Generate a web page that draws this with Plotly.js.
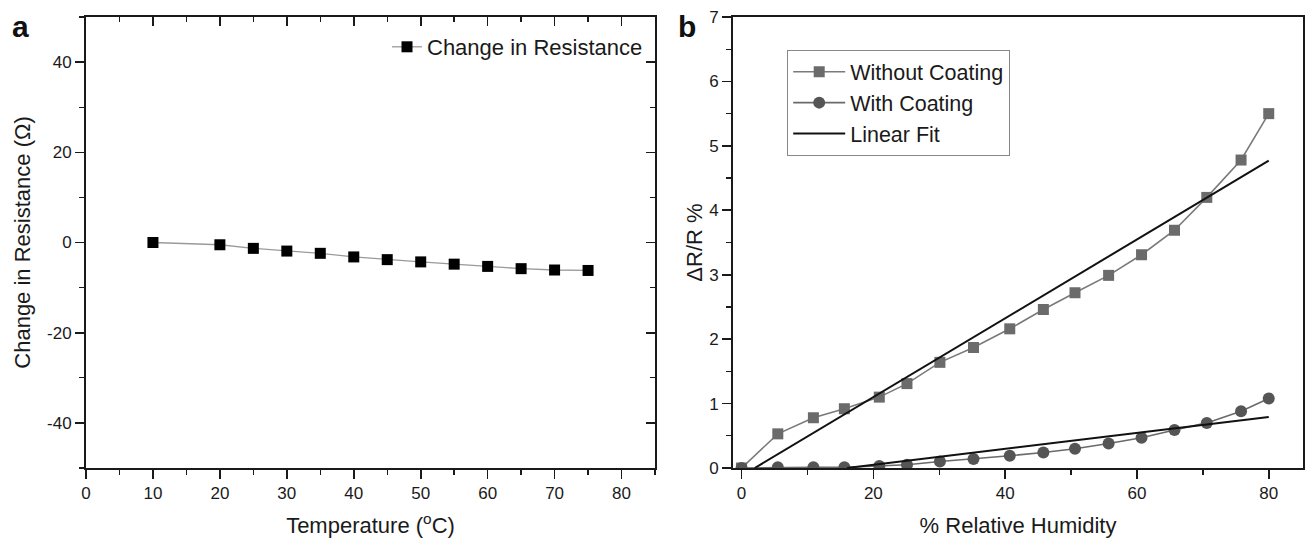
<!DOCTYPE html>
<html>
<head>
<meta charset="utf-8">
<script src="https://cdn.plot.ly/plotly-3.0.1.min.js"></script>
<style>html,body{margin:0;padding:0;background:#fff;}#chart{width:1305px;height:543px;}</style>
</head>
<body>
<div id="chart"></div>
<script>
// Panel a data
const tempC = [10, 20, 25, 30, 35, 40, 45, 50, 55, 60, 65, 70, 75];
const resistanceChange = [0, -0.5, -1.3, -1.9, -2.4, -3.2, -3.8, -4.3, -4.8, -5.3, -5.8, -6.1, -6.2];
const aYTickVals = [-40, -20, 0, 20, 40];
const aYTickText = ['-40', '-20', '0', '20', '40'];

// Panel b data
const humidity = [0, 5.5, 10.9, 15.6, 20.9, 25.1, 30.1, 35.2, 40.7, 45.8, 50.6, 55.7, 60.7, 65.7, 70.6, 75.8, 80];
const withoutCoating = [0, 0.53, 0.78, 0.92, 1.10, 1.31, 1.64, 1.87, 2.16, 2.46, 2.72, 2.99, 3.31, 3.69, 4.20, 4.78, 5.50];
const withCoating = [0, 0.01, 0.01, 0.01, 0.03, 0.05, 0.10, 0.14, 0.19, 0.24, 0.30, 0.38, 0.47, 0.59, 0.70, 0.88, 1.08];
const fitWithoutX = [2, 80];
const fitWithoutY = [0, 4.77];
const fitWithX = [16, 80];
const fitWithY = [0, 0.79];

const font = 'Liberation Sans, Arial, sans-serif';

const traces = [
  {x: tempC, y: resistanceChange, xaxis: 'x', yaxis: 'y', mode: 'lines+markers', name: 'Change in Resistance',
   line: {color: '#9a9a9a', width: 1.3}, marker: {symbol: 'square', size: 11, color: '#000'}, legend: 'legend'},
  // invisible helpers so the mirrored (inside-tick) frame axes of panel a are drawn
  {x: tempC, y: resistanceChange, xaxis: 'x3', yaxis: 'y', mode: 'markers', marker: {opacity: 0}, showlegend: false, hoverinfo: 'skip'},
  {x: tempC, y: resistanceChange, xaxis: 'x', yaxis: 'y3', mode: 'markers', marker: {opacity: 0}, showlegend: false, hoverinfo: 'skip'},
  {x: humidity, y: withoutCoating, xaxis: 'x2', yaxis: 'y2', mode: 'lines+markers', name: 'Without Coating',
   line: {color: '#7a7a7a', width: 1.6}, marker: {symbol: 'square', size: 11, color: '#6b6b6b'}, legend: 'legend2'},
  {x: humidity, y: withCoating, xaxis: 'x2', yaxis: 'y2', mode: 'lines+markers', name: 'With Coating',
   line: {color: '#6a6a6a', width: 1.6}, marker: {symbol: 'circle', size: 12, color: '#555'}, legend: 'legend2'},
  {x: fitWithoutX, y: fitWithoutY, xaxis: 'x2', yaxis: 'y2', mode: 'lines', name: 'Linear Fit',
   line: {color: '#111', width: 2}, legend: 'legend2'},
  {x: fitWithX, y: fitWithY, xaxis: 'x2', yaxis: 'y2', mode: 'lines', name: 'Linear Fit',
   line: {color: '#111', width: 2}, showlegend: false, legend: 'legend2'}
];

const tickFont = {family: font, size: 17, color: '#1a1a1a'};
const titleFont = {family: font, size: 22, color: '#1a1a1a'};
const dA = [86/1305, 655/1305];
const dB = [733/1305, 1303/1305];
const yd = [1 - 468/543, 1 - 17/543];
const lineC = '#1a1a1a';

const layout = {
  width: 1305, height: 543,
  margin: {l: 0, r: 0, t: 0, b: 0},
  paper_bgcolor: '#fff', plot_bgcolor: '#fff',
  font: {family: font, color: '#1a1a1a'},
  xaxis: {domain: dA, anchor: 'y', range: [0, 85], dtick: 10, tick0: 0, ticks: 'outside', ticklen: 9, tickwidth: 1.6,
          showline: true, linewidth: 2, linecolor: lineC, tickcolor: lineC, showgrid: false, zeroline: false, tickfont: tickFont,
          minor: {dtick: 5, tick0: 0, ticks: 'outside', ticklen: 5, tickwidth: 1.4, tickcolor: lineC}, automargin: false,
          title: {text: 'Temperature (<sup>o</sup>C)', font: titleFont, standoff: 15}},
  yaxis: {domain: yd, anchor: 'x', range: [-50, 50], tickmode: 'array', tickvals: aYTickVals, ticktext: aYTickText,
          ticks: 'outside', ticklen: 9, tickwidth: 1.6,
          showline: true, linewidth: 2, linecolor: lineC, tickcolor: lineC, showgrid: false, zeroline: false, tickfont: tickFont,
          minor: {tickmode: 'linear', dtick: 10, tick0: 0, ticks: 'outside', ticklen: 5, tickwidth: 1.4, tickcolor: lineC}, automargin: false,
          title: {text: 'Change in Resistance (Ω)', font: titleFont, standoff: 10}},
  xaxis3: {overlaying: 'x', anchor: 'y', side: 'top', range: [0, 85], dtick: 10, tick0: 0, ticks: 'inside', ticklen: 9, tickwidth: 1.6,
           showline: true, linewidth: 2, linecolor: lineC, tickcolor: lineC, showgrid: false, zeroline: false, showticklabels: false,
           minor: {dtick: 5, tick0: 0, ticks: 'inside', ticklen: 5, tickwidth: 1.4, tickcolor: lineC}},
  yaxis3: {overlaying: 'y', anchor: 'x', side: 'right', range: [-50, 50], dtick: 20, tick0: 0, ticks: 'inside', ticklen: 9, tickwidth: 1.6,
           showline: true, linewidth: 2, linecolor: lineC, tickcolor: lineC, showgrid: false, zeroline: false, showticklabels: false,
           minor: {dtick: 10, tick0: 0, ticks: 'inside', ticklen: 5, tickwidth: 1.4, tickcolor: lineC}},
  xaxis2: {domain: dB, anchor: 'y2', range: [-1.3, 85.2], dtick: 20, tick0: 0, ticks: 'outside', ticklen: 9, tickwidth: 1.6,
           showline: true, mirror: true, linewidth: 2, linecolor: lineC, tickcolor: lineC, showgrid: false, zeroline: false, tickfont: tickFont,
           minor: {dtick: 10, tick0: 0, ticks: 'outside', ticklen: 5, tickwidth: 1.4, tickcolor: lineC}, automargin: false,
           title: {text: '% Relative Humidity', font: titleFont, standoff: 15}},
  yaxis2: {domain: yd, anchor: 'x2', range: [0, 7], dtick: 1, tick0: 0, ticks: 'outside', ticklen: 9, tickwidth: 1.6,
           showline: true, mirror: true, linewidth: 2, linecolor: lineC, tickcolor: lineC, showgrid: false, zeroline: false, tickfont: tickFont,
           minor: {dtick: 0.5, tick0: 0, ticks: 'outside', ticklen: 5, tickwidth: 1.4, tickcolor: lineC}, automargin: false,
           title: {text: 'ΔR/R %', font: titleFont, standoff: 0}},
  legend: {x: 648/1305, xanchor: 'right', y: 1 - 26/543, yanchor: 'top', bgcolor: 'rgba(0,0,0,0)', borderwidth: 0,
           font: {family: font, size: 22, color: '#1a1a1a'}},
  legend2: {x: 787/1305, xanchor: 'left', y: 1 - 50/543, yanchor: 'top', bgcolor: '#fff', bordercolor: '#888', borderwidth: 1.2,
            font: {family: font, size: 21.5, color: '#1a1a1a'}, tracegroupgap: 0, itemwidth: 52},
  annotations: [
    {text: '<b>a</b>', x: 10/1305, y: 1 - 27/543, xref: 'paper', yref: 'paper', xanchor: 'left', yanchor: 'middle', showarrow: false,
     font: {family: font, size: 30, color: '#111'}},
    {text: '<b>b</b>', x: 676/1305, y: 1 - 27/543, xref: 'paper', yref: 'paper', xanchor: 'left', yanchor: 'middle', showarrow: false,
     font: {family: font, size: 30, color: '#111'}}
  ],
  showlegend: true
};

Plotly.newPlot('chart', traces, layout, {displayModeBar: false, staticPlot: true});
</script>
</body>
</html>
